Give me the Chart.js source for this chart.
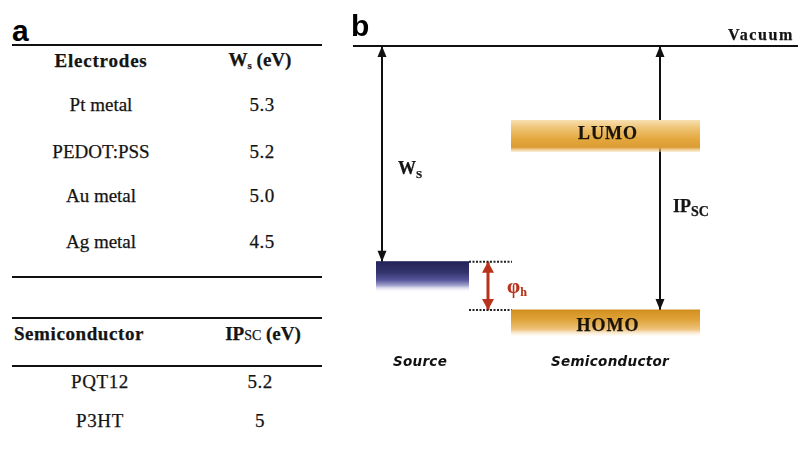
<!DOCTYPE html>
<html>
<head>
<meta charset="utf-8">
<script src="https://cdn.jsdelivr.net/npm/chart.js@4/dist/chart.umd.min.js"></script>
<style>
html,body{margin:0;padding:0;background:#fff;}
#page{position:relative;width:798px;height:454px;overflow:hidden;background:#fff;}
#diagram{position:absolute;left:340px;top:0;}
.t{position:absolute;transform:translate(-50%,-50%);white-space:nowrap;line-height:1;}
.serif{font-family:"Liberation Serif","Times New Roman","DejaVu Serif",serif;color:#141414;-webkit-text-stroke:0.25px #141414;}
.rule{position:absolute;left:12px;width:310px;height:2px;background:#111;}
.panel{position:absolute;font-family:"Liberation Sans",Arial,sans-serif;font-weight:bold;font-size:30px;line-height:1;color:#000;}
.caption{font-family:"DejaVu Sans",sans-serif;font-weight:bold;font-style:italic;font-size:13.5px;color:#111;letter-spacing:0.3px;}
</style>
</head>
<body>
<div id="page">
  <canvas id="diagram" width="458" height="454"></canvas>
  <div id="labels"></div>
</div>
<script>
// ---------------- data (panel a tables) ----------------
const electrodes      = ['Pt metal', 'PEDOT:PSS', 'Au metal', 'Ag metal'];
const workFunctionEV  = ['5.3', '5.2', '5.0', '4.5'];
const semiconductors  = ['PQT12', 'P3HT'];
const ionizationEV    = ['5.2', '5'];

// ---------------- data (panel b energy diagram, eV relative to vacuum) ----------------
const levelNames      = ['Vacuum', 'Source', 'LUMO', 'HOMO'];
const levelTopEV      = [0, -4.25, -1.46, -5.2];
const levelBottomEV   = [0, -4.85, -2.09, -5.75];

// ---------------- layout (page pixels) ----------------
const rowY1 = [104, 151, 195, 241];
const rowY2 = [381, 420];
const PX_PER_EV = 264 / 5.2;          // vertical scale of the diagram
const VAC_PX = 46;                    // pixel row of the vacuum level
const CANVAS_H = 454;
const SERIF = 'font-family:"Liberation Serif","Times New Roman","DejaVu Serif",serif;';

const labels = document.getElementById('labels');
function addText(html, x, y, cls, style) {
  const d = document.createElement('div');
  d.className = 't ' + (cls || '');
  d.style.left = x + 'px';
  d.style.top = y + 'px';
  if (style) d.style.cssText += style;
  d.innerHTML = html;
  labels.appendChild(d);
}
function addRule(top) {
  const d = document.createElement('div');
  d.className = 'rule';
  d.style.top = top + 'px';
  labels.appendChild(d);
}
function addPanel(letter, left, top) {
  const d = document.createElement('div');
  d.className = 'panel';
  d.style.left = left + 'px';
  d.style.top = top + 'px';
  d.textContent = letter;
  labels.appendChild(d);
}

// ---------------- panel a ----------------
addPanel('a', 12, 16);
addRule(44); addRule(276); addRule(317); addRule(365);
const bodyFont = SERIF + 'font-size:19px;';
const headFont = SERIF + 'font-size:19px;font-weight:bold;letter-spacing:0.8px;';
addText('Electrodes', 101, 60, 'serif', headFont);
addText('W<sub style="font-size:11px;vertical-align:-3px;">s</sub> (eV)', 260, 60, 'serif', headFont + 'letter-spacing:0;');
electrodes.forEach((e, i) => {
  addText(e, 101, rowY1[i], 'serif', bodyFont);
  addText(workFunctionEV[i], 262, rowY1[i], 'serif', bodyFont + 'letter-spacing:0.5px;');
});
addText('Semiconductor', 79, 333, 'serif', headFont + 'letter-spacing:0.6px;');
addText('IP<span style="font-size:14px;font-weight:normal;">SC</span> (eV)', 263, 333, 'serif', headFont + 'letter-spacing:0;');
semiconductors.forEach((s, i) => {
  addText(s, 100, rowY2[i], 'serif', bodyFont + 'letter-spacing:0.6px;');
  addText(ionizationEV[i], 260, rowY2[i], 'serif', bodyFont + 'letter-spacing:0.5px;');
});

// ---------------- panel b labels ----------------
addPanel('b', 351, 11);
addText(levelNames[0], 761, 35, 'serif', SERIF + 'font-size:16px;font-weight:bold;letter-spacing:1.6px;');
addText('W<sub style="font-size:11px;vertical-align:-4px;">S</sub>', 410, 169, 'serif', SERIF + 'font-size:18px;font-weight:bold;');
addText(levelNames[2], 608, 133, 'serif', SERIF + 'font-size:18px;font-weight:bold;letter-spacing:1px;color:#1c1408;');
addText(levelNames[3], 608, 325, 'serif', SERIF + 'font-size:18px;font-weight:bold;letter-spacing:1px;color:#1c1408;');
addText('IP<sub style="font-size:14px;vertical-align:-4px;">SC</sub>', 691, 208, 'serif', SERIF + 'font-size:18px;font-weight:bold;');
addText('&phi;<sub style="font-size:12px;vertical-align:-3px;">h</sub>', 517, 287, 'serif', SERIF + 'font-size:21px;font-weight:bold;color:#b8331c;-webkit-text-stroke:0.2px #b8331c;');
addText(levelNames[1], 420, 362, 'caption', '');
addText('Semiconductor', 610, 362, 'caption', '');

// ---------------- panel b chart ----------------
const yMax = VAC_PX / PX_PER_EV;
const yMin = -(CANVAS_H - VAC_PX) / PX_PER_EV;

// horizontal extents of the diagram parts (page pixels)
const X = { vac:[353, 798], src:[376, 469], band:[511, 700], dots:[469, 512], wsArrow:382, ipArrow:660, phiArrow:488 };

function bandGradient(idx, stops) {
  return function (ctx) {
    const ch = ctx.chart;
    const ys = ch.scales && ch.scales.y;
    if (!ys || !ch.chartArea) return stops[1][1];
    const y0 = ys.getPixelForValue(levelTopEV[idx]);
    const y1 = ys.getPixelForValue(levelBottomEV[idx]);
    const g = ch.ctx.createLinearGradient(0, y0, 0, y1);
    stops.forEach(s => g.addColorStop(s[0], s[1]));
    return g;
  };
}
const hidden = 'rgba(0,0,0,0)';
function seg(x0, x1, y) { return [{x:x0, y:y}, {x:x1, y:y}]; }

const datasets = [
  // vacuum level
  { data: seg(X.vac[0], X.vac[1], levelTopEV[0]), borderColor:'#111', borderWidth:2 },
  // source electrode band
  { data: seg(X.src[0], X.src[1], levelTopEV[1]), borderColor:'#24245a', borderWidth:1, fill:'+1',
    backgroundColor: bandGradient(1, [[0,'#25255a'],[0.35,'#33336d'],[0.6,'#56569a'],[0.78,'#a4a4d0'],[1,'rgba(255,255,255,0)']]) },
  { data: seg(X.src[0], X.src[1], levelBottomEV[1]), borderColor:hidden, borderWidth:1 },
  // LUMO band
  { data: seg(X.band[0], X.band[1], levelTopEV[2]), borderColor:hidden, borderWidth:1, fill:'+1',
    backgroundColor: bandGradient(2, [[0,'#f7e0b0'],[0.25,'#efc474'],[0.6,'#e3a73c'],[0.85,'#dc9c35'],[1,'rgba(245,215,160,0.4)']]) },
  { data: seg(X.band[0], X.band[1], levelBottomEV[2]), borderColor:hidden, borderWidth:1 },
  // HOMO band
  { data: seg(X.band[0], X.band[1], levelTopEV[3]), borderColor:'#d08c1e', borderWidth:1, fill:'+1',
    backgroundColor: bandGradient(3, [[0,'#d3901f'],[0.35,'#e0a33a'],[0.7,'#eec47e'],[1,'rgba(255,255,255,0)']]) },
  { data: seg(X.band[0], X.band[1], levelBottomEV[3]), borderColor:hidden, borderWidth:1 },
  // dotted guide lines for the barrier
  { data: seg(X.dots[0], X.dots[1], levelTopEV[1]), borderColor:'#222', borderWidth:2, borderDash:[2,1.5] },
  { data: seg(X.dots[0], X.dots[1], levelTopEV[3]), borderColor:'#222', borderWidth:2, borderDash:[2,1.5] },
  // W_s arrow
  { data: [{x:X.wsArrow, y:levelTopEV[0]}, {x:X.wsArrow, y:levelTopEV[1]}], borderColor:'#111', borderWidth:2, arrowHead:{len:11, half:4.5, color:'#111'} },
  // IP_sc arrow
  { data: [{x:X.ipArrow, y:levelTopEV[0]}, {x:X.ipArrow, y:levelTopEV[3]}], borderColor:'#111', borderWidth:2, arrowHead:{len:11, half:4.5, color:'#111'} },
  // barrier arrow
  { data: [{x:X.phiArrow, y:levelTopEV[1]}, {x:X.phiArrow, y:levelTopEV[3]}], borderColor:'#b8331c', borderWidth:3, arrowHead:{len:11, half:6, color:'#b8331c'} }
];
datasets.forEach(d => { d.pointRadius = 0; d.tension = 0; if (d.fill === undefined) d.fill = false; });

const arrowPlugin = {
  id: 'arrowHeads',
  afterDatasetsDraw(chart) {
    const c = chart.ctx;
    chart.data.datasets.forEach((ds, i) => {
      if (!ds.arrowHead) return;
      const pts = chart.getDatasetMeta(i).data;
      const a = pts[0], b = pts[pts.length - 1];
      const h = ds.arrowHead;
      [[a, b], [b, a]].forEach(([tip, from]) => {
        const dx = tip.x - from.x, dy = tip.y - from.y;
        const L = Math.hypot(dx, dy) || 1;
        const ux = dx / L, uy = dy / L;
        const bx = tip.x - ux * h.len, by = tip.y - uy * h.len;
        c.save();
        c.fillStyle = h.color;
        c.beginPath();
        c.moveTo(tip.x, tip.y);
        c.lineTo(bx - uy * h.half, by + ux * h.half);
        c.lineTo(bx + uy * h.half, by - ux * h.half);
        c.closePath();
        c.fill();
        c.restore();
      });
    });
  }
};

new Chart(document.getElementById('diagram'), {
  type: 'line',
  data: { datasets },
  options: {
    responsive: false,
    animation: false,
    devicePixelRatio: 1,
    layout: { padding: 0 },
    scales: {
      x: { type:'linear', min:340, max:798, display:false },
      y: { type:'linear', min:yMin, max:yMax, display:false }
    },
    plugins: { legend:{display:false}, tooltip:{enabled:false} }
  },
  plugins: [arrowPlugin]
});
</script>
</body>
</html>
